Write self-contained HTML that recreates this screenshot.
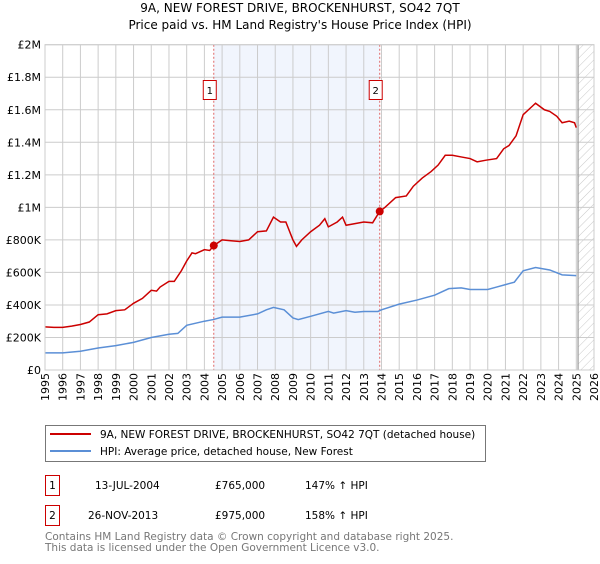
<!DOCTYPE html>
<html><head><meta charset="utf-8"><style>
body{margin:0;background:#fff;font-family:"DejaVu Sans","Liberation Sans",sans-serif;}
svg text{font-family:"DejaVu Sans","Liberation Sans",sans-serif;}
</style></head><body>
<svg id="c" width="600" height="560" xmlns="http://www.w3.org/2000/svg">
<defs><pattern id="hatch" width="6" height="6" patternUnits="userSpaceOnUse" patternTransform="rotate(45)"><line x1="0" y1="0" x2="0" y2="6" stroke="#bbb" stroke-width="0.8"/></pattern></defs>
<text x="300" y="12" text-anchor="middle" font-size="12">9A, NEW FOREST DRIVE, BROCKENHURST, SO42 7QT</text>
<text x="300" y="29" text-anchor="middle" font-size="12">Price paid vs. HM Land Registry's House Price Index (HPI)</text>
<g id="plot"></g>
<g>
<rect x="45.5" y="425.5" width="440" height="36" fill="#fff" stroke="#777"/>
<line x1="50" y1="434" x2="91" y2="434" stroke="#cc0000" stroke-width="2"/>
<text x="100" y="438" font-size="10.5">9A, NEW FOREST DRIVE, BROCKENHURST, SO42 7QT (detached house)</text>
<line x1="50" y1="451" x2="91" y2="451" stroke="#5b8fd6" stroke-width="2"/>
<text x="100" y="455" font-size="10.5">HPI: Average price, detached house, New Forest</text>
</g>
<g font-size="10.5">
<rect x="45.5" y="475.5" width="14" height="20" fill="#fff" stroke="#cc0000"/>
<text x="52.5" y="489" text-anchor="middle">1</text>
<text x="95" y="489">13-JUL-2004</text>
<text x="215" y="489">£765,000</text>
<text x="305" y="489">147% ↑ HPI</text>
<rect x="45.5" y="505.5" width="14" height="20" fill="#fff" stroke="#cc0000"/>
<text x="52.5" y="519" text-anchor="middle">2</text>
<text x="88" y="519">26-NOV-2013</text>
<text x="215" y="519">£975,000</text>
<text x="305" y="519">158% ↑ HPI</text>
</g>
<text x="45" y="540" font-size="10.5" fill="#777">Contains HM Land Registry data © Crown copyright and database right 2025.</text>
<text x="45" y="551" font-size="10.5" fill="#777">This data is licensed under the Open Government Licence v3.0.</text>
</svg>
<script>
const propYears=[1995,1995.5,1996,1996.5,1997,1997.5,1998,1998.5,1999,1999.5,2000,2000.5,2001,2001.3,2001.5,2002,2002.3,2002.7,2003,2003.3,2003.5,2004,2004.3,2004.53,2005,2005.5,2006,2006.5,2007,2007.5,2007.9,2008.3,2008.6,2009,2009.2,2009.5,2010,2010.5,2010.8,2011,2011.5,2011.8,2012,2012.5,2013,2013.5,2013.9,2014.2,2014.8,2015.4,2015.8,2016.3,2016.8,2017.2,2017.6,2018,2018.5,2019,2019.4,2019.9,2020.5,2020.9,2021.2,2021.6,2022,2022.5,2022.7,2023.2,2023.5,2023.9,2024.2,2024.6,2024.9,2025.0];
const propValues=[265,262,262,270,280,295,340,345,365,370,410,440,490,485,510,545,545,610,670,720,715,740,735,765,800,795,790,800,850,855,940,910,910,800,760,800,850,890,930,880,910,940,890,900,910,905,975,1000,1060,1070,1130,1180,1220,1260,1320,1320,1310,1300,1280,1290,1300,1360,1380,1440,1570,1620,1640,1600,1590,1560,1520,1530,1520,1490];
const hpiYears=[1995,1996,1997,1998,1999,2000,2001,2002,2002.5,2003,2004,2004.5,2005,2006,2007,2007.5,2007.9,2008.5,2009,2009.3,2010,2011,2011.3,2012,2012.5,2013,2013.8,2014,2015,2016,2017,2017.8,2018.5,2019,2020,2020.5,2021,2021.5,2022,2022.7,2023.5,2024.2,2025.0];
const hpiValues=[105,105,115,135,150,170,200,220,225,275,300,310,325,325,345,370,385,370,320,310,330,360,350,365,355,360,360,370,405,430,460,500,505,495,495,510,525,540,610,630,615,585,580];
const saleYears=[2004.53,2013.9];
const saleValues=[765,975];
const saleLabels=["1","2"];
const yTicks=[0,200,400,600,800,1000,1200,1400,1600,1800,2000];
const yTickLabels=["£0","£200K","£400K","£600K","£800K","£1M","£1.2M","£1.4M","£1.6M","£1.8M","£2M"];
const xTicks=[1995,1996,1997,1998,1999,2000,2001,2002,2003,2004,2005,2006,2007,2008,2009,2010,2011,2012,2013,2014,2015,2016,2017,2018,2019,2020,2021,2022,2023,2024,2025,2026];

const X0=45,X1=594,Y0=370,Y1=44.7;
const xs=y=>X0+(y-1995)/(2026-1995)*(X1-X0);
const ys=v=>Y0-v/2000*(Y0-Y1);
const NS="http://www.w3.org/2000/svg";
const g=document.getElementById('plot');
function mk(tag,attrs,parent){const e=document.createElementNS(NS,tag);for(const k in attrs)e.setAttribute(k,attrs[k]);(parent||g).appendChild(e);return e;}

const shade=mk('rect',{x:xs(saleYears[0]),y:Y1,width:xs(saleYears[1])-xs(saleYears[0]),height:Y0-Y1,fill:'#eef3fd',opacity:0.8});


const hatch=mk('rect',{x:xs(2025.1),y:Y1,width:X1-xs(2025.1),height:Y0-Y1,fill:'url(#hatch)'});



yTicks.forEach((t,i)=>{
  const l=mk('line',{x1:X0,x2:X1,y1:ys(t),y2:ys(t),stroke:'#ccc','stroke-width':1});
  
  
  const tx=mk('text',{x:X0-4,y:ys(t)+4,'text-anchor':'end','font-size':11});
  
  
  tx.textContent=yTickLabels[i];
});
xTicks.forEach(t=>{
  const l=mk('line',{x1:xs(t),x2:xs(t),y1:Y1,y2:Y0,stroke:'#ccc','stroke-width':1});
  
  
  const tx=mk('text',{transform:`translate(${xs(t)+4},${Y0+31}) rotate(-90)`,'font-size':11});
  
  
  tx.textContent=t;
});
const endL=mk('line',{x1:xs(2025.1),x2:xs(2025.1),y1:Y1,y2:Y0,stroke:'#999','stroke-width':1.2});



saleYears.forEach((y,i)=>{
  const l=mk('line',{x1:xs(y),x2:xs(y),y1:Y1,y2:Y0,stroke:'#e06666','stroke-width':1,'stroke-dasharray':'2,2'});
  
  
  const r=mk('rect',{x:xs(y)-10.5,y:80.5,width:13,height:19,fill:'#fff',stroke:'#cc0000'});
  
  
  const t=mk('text',{x:xs(y)-4,y:94,'text-anchor':'middle','font-size':10});
  
  
  t.textContent=saleLabels[i];
});

const hp=mk('polyline',{points:hpiYears.map((y,i)=>xs(y)+','+ys(hpiValues[i])).join(' '),fill:'none',stroke:'#5b8fd6','stroke-width':1.5});


const pp=mk('polyline',{points:propYears.map((y,i)=>xs(y)+','+ys(propValues[i])).join(' '),fill:'none',stroke:'#cc0000','stroke-width':1.5});


saleYears.forEach((y,i)=>{
  const c=mk('circle',{cx:xs(y),cy:ys(saleValues[i]),r:4,fill:'#cc0000'});
  
  
});
const fr=mk('rect',{x:X0,y:Y1,width:X1-X0,height:Y0-Y1,fill:'none',stroke:'#ccc'});


</script>
</body></html>
